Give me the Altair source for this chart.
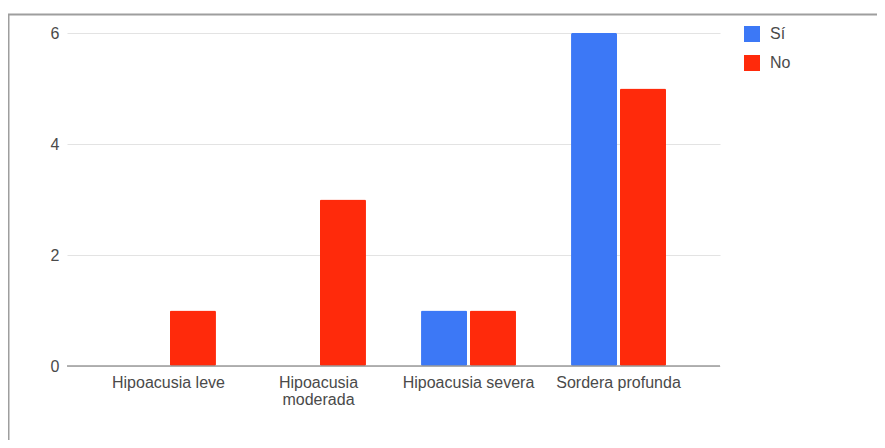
import altair as alt
import pandas as pd

categories = ["Hipoacusia leve", "Hipoacusia moderada", "Hipoacusia severa", "Sordera profunda"]
series_names = ["Sí", "No"]
si_values = [0, 0, 1, 6]
no_values = [1, 3, 1, 5]
y_ticks = [0, 2, 4, 6]
colors = ["#3c78f6", "#ff2a0b"]

rows = []
for c, s, n in zip(categories, si_values, no_values):
    rows.append({"cat": c, "serie": "Sí", "val": s})
    rows.append({"cat": c, "serie": "No", "val": n})
df = pd.DataFrame(rows)

FONT = "Liberation Sans"
TXT = "#4a4a4a"
FS = 16

bars = alt.Chart(df).mark_bar(cornerRadius=1.5).encode(
    x=alt.X("cat:N", sort=categories,
            scale=alt.Scale(paddingInner=0.367, paddingOuter=0.36),
            axis=alt.Axis(title=None, labelAngle=0, domain=False, ticks=False,
                          labelFont=FONT, labelFontSize=FS, labelColor=TXT,
                          labelPadding=8, labelLineHeight=17, grid=False,
                          labelExpr="datum.label == 'Hipoacusia moderada' ? ['Hipoacusia', 'moderada'] : datum.label")),
    xOffset=alt.XOffset("serie:N", sort=series_names,
                        scale=alt.Scale(paddingInner=0.06, paddingOuter=0)),
    y=alt.Y("val:Q", scale=alt.Scale(domain=[0, 6], nice=False),
            axis=alt.Axis(title=None, values=y_ticks, format="d", domain=False, ticks=False,
                          labelFont=FONT, labelFontSize=FS, labelColor=TXT,
                          labelPadding=8, gridColor="#e3e3e3", gridWidth=1)),
    color=alt.Color("serie:N", sort=series_names,
                    scale=alt.Scale(domain=series_names, range=colors),
                    legend=alt.Legend(title=None, orient="none", legendX=677, legendY=-7,
                                      symbolType="square", symbolSize=256,
                                      symbolStrokeWidth=0, labelFont=FONT,
                                      labelFontSize=FS, labelColor=TXT,
                                      labelOffset=10, rowPadding=13, padding=0)),
)

baseline = alt.Chart(pd.DataFrame({"z": [0]})).mark_rule(color="#9a9a9a", strokeWidth=1.5).encode(
    y=alt.Y("z:Q")
)

frame = alt.Chart(pd.DataFrame({"f": [0]})).mark_rect(
    fillOpacity=0, stroke="#9e9e9e", strokeWidth=2
).encode(
    x=alt.value(-58.5), x2=alt.value(900), y=alt.value(-18.5), y2=alt.value(500)
)

chart = alt.layer(frame, bars, baseline).properties(
    width=653, height=333,
    background="white",
    autosize=alt.AutoSizeParams(type="none"),
    padding={"left": 59, "top": 25, "right": 157, "bottom": 74},
).configure_view(stroke=None)

chart.save("out.html", embed_options={"renderer": "svg", "actions": False})
